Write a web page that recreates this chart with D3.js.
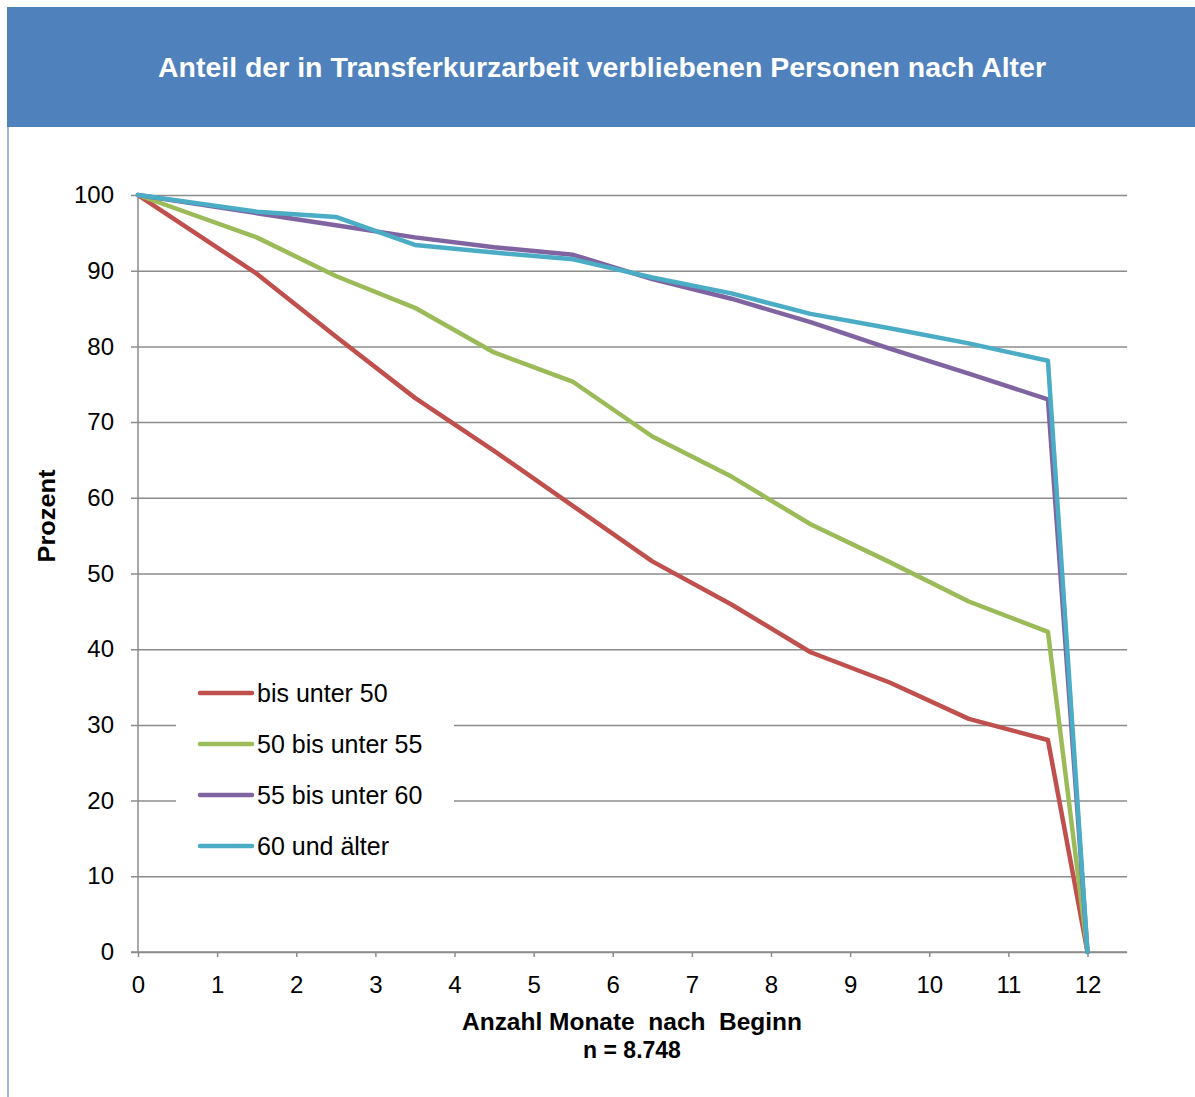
<html>
<head>
<style>
    body { margin: 0; padding: 0; background: white; }
    svg { display: block; }
</style>
<script src="https://cdn.jsdelivr.net/npm/d3@7"></script>
</head>
<body>
<svg width="1195" height="1097"></svg>
<script>
    // months after start (points sit at half months, then 12)
    const months = [0, 1.5, 2.5, 3.5, 4.5, 5.5, 6.5, 7.5, 8.5, 9.5, 10.5, 11.5, 12];
    const seriesNames = ["bis unter 50", "50 bis unter 55", "55 bis unter 60", "60 und älter"];
    const redValues    = [100, 89.6, 81.3, 73.2, 66.2, 58.9, 51.6, 45.9, 39.6, 35.6, 30.8, 28.0, 0];
    const greenValues  = [100, 94.4, 89.3, 85.1, 79.2, 75.3, 68.1, 62.8, 56.5, 51.5, 46.3, 42.3, 0];
    const purpleValues = [100, 97.6, 96.0, 94.4, 93.1, 92.1, 88.9, 86.3, 83.2, 79.7, 76.4, 73.0, 0];
    const cyanValues   = [100, 97.8, 97.1, 93.4, 92.4, 91.5, 89.1, 87.0, 84.3, 82.4, 80.4, 78.1, 0];
    const colors = ["#C0504D", "#9BBB59", "#8064A2", "#4BACC6"];
    const xTicks = [0, 1, 2, 3, 4, 5, 6, 7, 8, 9, 10, 11, 12];
    const yTicks = [0, 10, 20, 30, 40, 50, 60, 70, 80, 90, 100];

    const allValues = [redValues, greenValues, purpleValues, cyanValues];

    svg = d3.select("svg");
    const font = "Arial, 'Liberation Sans', Helvetica, sans-serif";

    // header band + frame
    svg.append("rect")
        .attr("x", 7).attr("y", 7).attr("width", 1195).attr("height", 120)
        .attr("fill", "#4F81BD");
    svg.append("line")
        .attr("x1", 8).attr("x2", 8).attr("y1", 127).attr("y2", 1097)
        .attr("stroke", "#7EA2D4").attr("stroke-width", 1.5);

    svg.append("text")
        .attr("x", 602).attr("y", 77)
        .attr("text-anchor", "middle")
        .attr("font-family", font)
        .attr("font-weight", "bold")
        .attr("font-size", "28px")
        .attr("textLength", 888)
        .attr("lengthAdjust", "spacingAndGlyphs")
        .attr("fill", "white")
        .text("Anteil der in Transferkurzarbeit verbliebenen Personen nach Alter");

    // scales
    const x = d3.scaleLinear().domain([0, 12]).range([138, 1087.5]);
    const y = d3.scaleLinear().domain([0, 100]).range([952, 195]);
    const xEnd = x(12.5);

    // gridlines
    svg.append("g")
        .attr("transform", `translate(${x(0)},0)`)
        .call(d3.axisLeft(y).tickValues(yTicks).tickSize(-(xEnd - x(0))).tickFormat(""))
        .call(g => g.select(".domain").remove())
        .call(g => g.selectAll("line").attr("stroke", "#8c8c8c").attr("stroke-width", 1.5)
            .attr("x1", -7));

    // legend box hides grid behind it
    svg.append("rect")
        .attr("x", 176).attr("y", 662).attr("width", 278).attr("height", 208)
        .attr("fill", "white");

    // y axis line
    svg.append("line")
        .attr("x1", x(0)).attr("x2", x(0)).attr("y1", y(100)).attr("y2", y(0))
        .attr("stroke", "#8c8c8c").attr("stroke-width", 1.5);

    // x axis
    const xAxis = svg.append("g")
        .attr("transform", `translate(0,${y(0)})`)
        .call(d3.axisBottom(x).tickValues(xTicks).tickSize(5).tickPadding(19).tickFormat(d3.format("d")));
    xAxis.select(".domain").remove();
    xAxis.selectAll("line").attr("stroke", "#8c8c8c").attr("stroke-width", 1.5);
    xAxis.selectAll("text")
        .attr("font-family", font).attr("font-size", "24px").attr("fill", "black");
    svg.append("line")
        .attr("x1", x(0) - 7).attr("x2", xEnd).attr("y1", y(0)).attr("y2", y(0))
        .attr("stroke", "#8c8c8c").attr("stroke-width", 1.5);

    // y tick labels
    svg.append("g")
        .attr("transform", `translate(${x(0)},0)`)
        .call(d3.axisLeft(y).tickValues(yTicks).tickSize(0).tickPadding(24))
        .call(g => g.select(".domain").remove())
        .call(g => g.selectAll("text")
            .attr("font-family", font).attr("font-size", "24px").attr("fill", "black"));

    // lines
    const line = d3.line()
        .x((d, i) => x(months[i]))
        .y(d => y(d));
    allValues.forEach((vals, k) => {
        svg.append("path")
            .datum(vals)
            .attr("d", line)
            .attr("fill", "none")
            .attr("stroke", colors[k])
            .attr("stroke-width", 4.5)
            .attr("stroke-linejoin", "round")
            .attr("stroke-linecap", "round");
    });

    // legend
    const legend = svg.append("g").attr("transform", "translate(200,693)");
    seriesNames.forEach((name, k) => {
        const row = legend.append("g").attr("transform", `translate(0,${k * 51})`);
        row.append("line")
            .attr("x1", 0).attr("x2", 52).attr("y1", 0).attr("y2", 0)
            .attr("stroke", colors[k]).attr("stroke-width", 4.5)
            .attr("stroke-linecap", "round");
        row.append("text")
            .attr("x", 57).attr("y", 0)
            .attr("dy", "0.35em")
            .attr("font-family", font)
            .attr("font-size", "25px")
            .attr("fill", "black")
            .text(name);
    });

    // axis titles
    svg.append("text")
        .attr("transform", "translate(55,516) rotate(-90)")
        .attr("text-anchor", "middle")
        .attr("font-family", font)
        .attr("font-weight", "bold")
        .attr("font-size", "24px")
        .attr("textLength", 93)
        .attr("lengthAdjust", "spacingAndGlyphs")
        .attr("fill", "black")
        .text("Prozent");

    svg.append("text")
        .attr("x", 632).attr("y", 1030)
        .attr("text-anchor", "middle")
        .attr("font-family", font)
        .attr("font-weight", "bold")
        .attr("font-size", "23px")
        .attr("textLength", 340)
        .attr("lengthAdjust", "spacingAndGlyphs")
        .attr("fill", "black")
        .style("white-space", "pre")
        .text("Anzahl Monate  nach  Beginn");

    svg.append("text")
        .attr("x", 632).attr("y", 1058)
        .attr("text-anchor", "middle")
        .attr("font-family", font)
        .attr("font-weight", "bold")
        .attr("font-size", "23px")
        .attr("fill", "black")
        .text("n = 8.748");
</script>
</body>
</html>
